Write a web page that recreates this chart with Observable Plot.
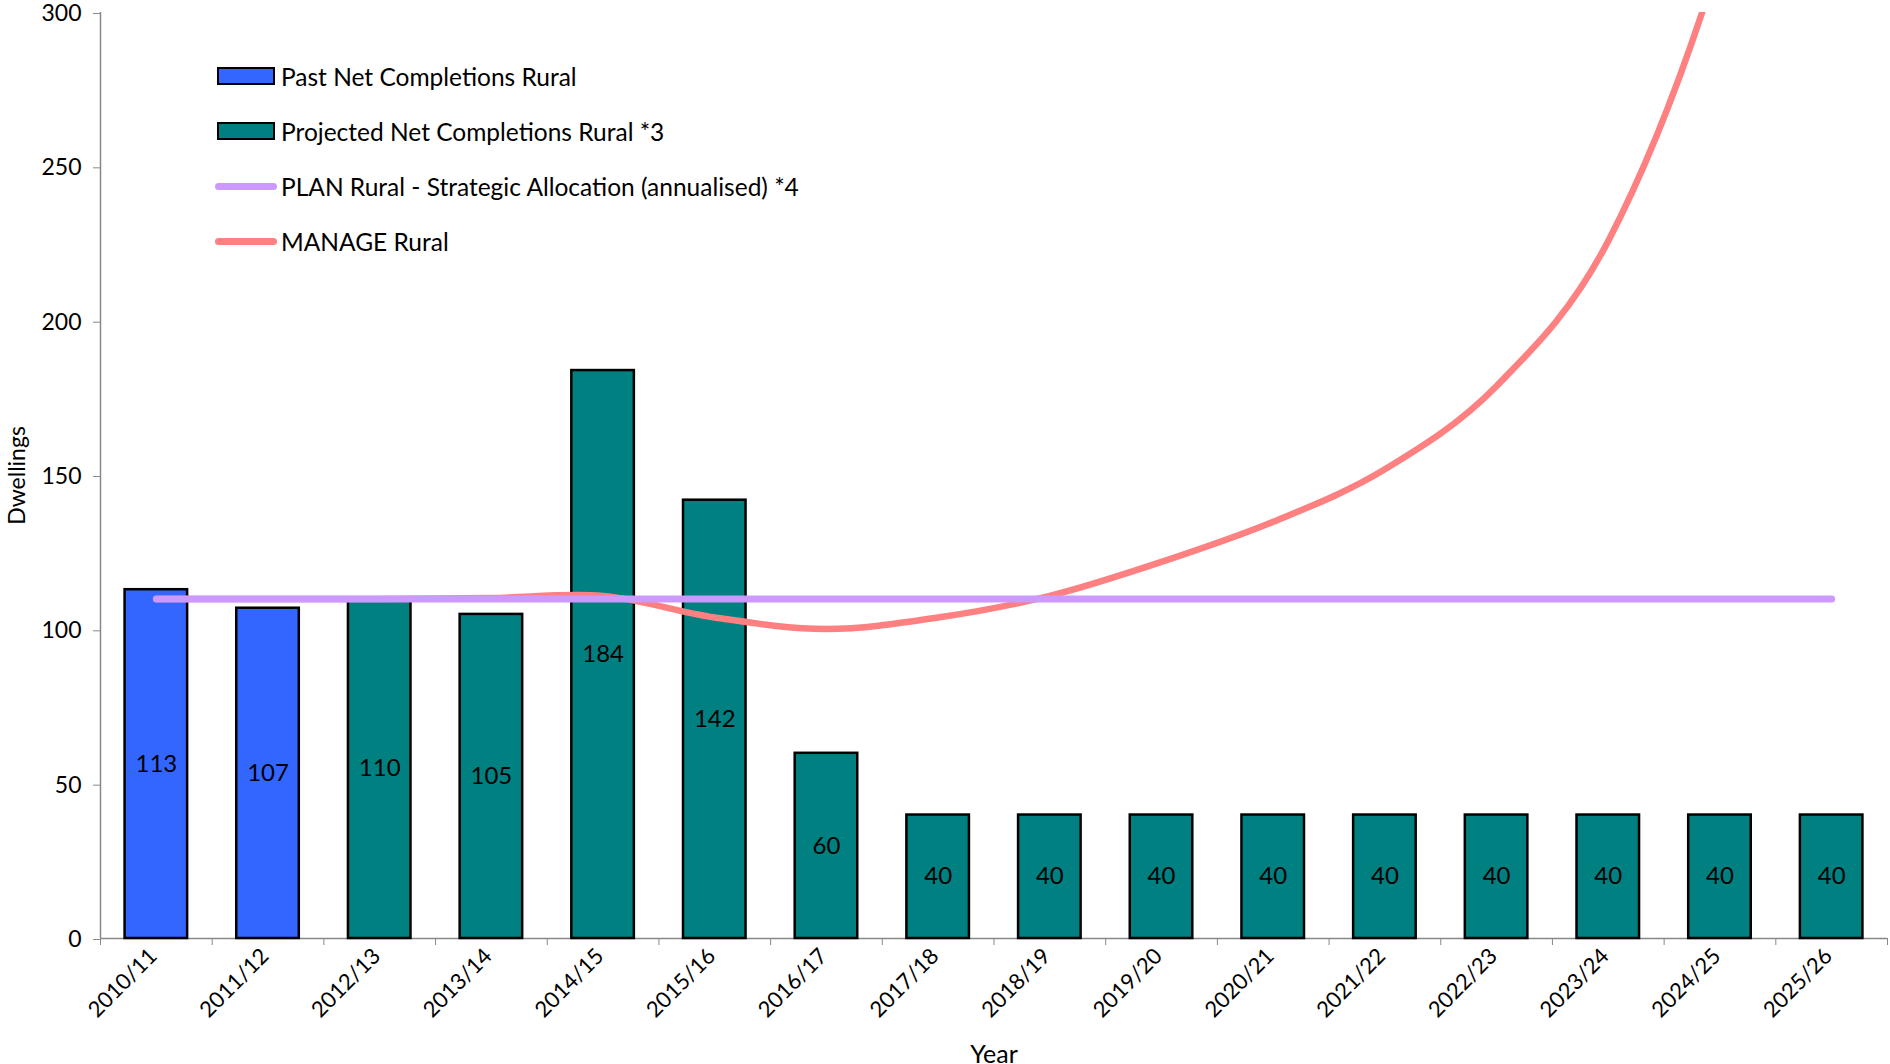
<!DOCTYPE html>
<html>
<head>
<meta charset="utf-8">
<script src="https://cdn.jsdelivr.net/npm/d3@7"></script>
<script src="https://cdn.jsdelivr.net/npm/@observablehq/plot@0.6"></script>
<style>
  body { margin: 0; background: #fff; font-family: Lato, "Noto Sans", sans-serif; }
  #wrap { position: relative; width: 1890px; height: 1064px; }
  .row { position: absolute; left: 215px; height: 30px; display: flex; align-items: center; font-size: 24.5px; color: #000; white-space: nowrap; }
  .box { width: 58px; height: 18px; box-sizing: border-box; border: 2.5px solid #000; margin-left: 2px; margin-right: 6px; }
  .ln { width: 62px; height: 7px; border-radius: 4px; margin-right: 4px; }
</style>
</head>
<body>
<div id="wrap">
  <div id="chart"></div>
  <div id="legend"></div>
</div>
<script>
const years = ["2010/11","2011/12","2012/13","2013/14","2014/15","2015/16","2016/17","2017/18",
               "2018/19","2019/20","2020/21","2021/22","2022/23","2023/24","2024/25","2025/26"];
const completions = [113, 107, 110, 105, 184, 142, 60, 40, 40, 40, 40, 40, 40, 40, 40, 40];
const completionType = ["Past","Past","Projected","Projected","Projected","Projected","Projected","Projected",
                        "Projected","Projected","Projected","Projected","Projected","Projected","Projected","Projected"];
const planRural = [110,110,110,110,110,110,110,110,110,110,110,110,110,110,110,110];
const manageRural = [110, 110, 110, 110.3, 111, 104, 100.3, 104, 111, 122, 135, 152, 179, 226, 318, 460];
const yTicks = [0, 50, 100, 150, 200, 250, 300];

const seriesNames = ["Past Net Completions Rural", "Projected Net Completions Rural *3",
                     "PLAN Rural - Strategic Allocation (annualised) *4", "MANAGE Rural"];
const colors = { past: "#3366FF", projected: "#008080", plan: "#CC99FF", manage: "#FF8080" };

const bars = years.map((year, i) => ({ year, value: completions[i], type: completionType[i] }));
const lines = years.map((year, i) => ({ year, plan: planRural[i], manage: manageRural[i] }));

const W = 1890, H = 1064, mL = 100, mR = 3, mT = 12, mB = 126;
const step = (W - mL - mR) / years.length;
const axisGrey = "#888888";

const chart = Plot.plot({
  width: W, height: H,
  marginLeft: mL, marginRight: mR, marginTop: mT, marginBottom: mB,
  style: { fontFamily: "Lato, 'Noto Sans', sans-serif", fontSize: "23px", color: "#000", background: "#fff", overflow: "visible" },
  x: { type: "band", domain: years, paddingInner: 0.44, paddingOuter: 0.22, round: false },
  y: { domain: [0, 300] },
  color: { domain: ["Past", "Projected"], range: [colors.past, colors.projected] },
  marks: [
    Plot.ruleY([0], { stroke: axisGrey, strokeWidth: 1.5 }),
    Plot.ruleX([years[0]], { dx: -step / 2, y1: 0, y2: 300, stroke: axisGrey, strokeWidth: 1.5 }),
    Plot.axisY({ ticks: yTicks, tickSize: 7, tickPadding: 12, stroke: axisGrey, fontSize: 23, dy: 1,
                 label: "Dwellings", labelAnchor: "center", labelArrow: "none", labelOffset: 92 }),
    Plot.axisX({ tickSize: 0, tickRotate: -45, tickPadding: 14, fontSize: 22, dx: -3, label: null }),
    Plot.axisX({ ticks: [], fontSize: 25, label: "Year", labelAnchor: "center", labelArrow: "none", labelOffset: 124 }),
    Plot.axisX({ ticks: years, tickSize: 7, dx: -step / 2, stroke: axisGrey, tickFormat: () => "", label: null }),
    Plot.axisX({ ticks: [years[years.length - 1]], tickSize: 7, dx: step / 2, stroke: axisGrey, tickFormat: () => "", label: null }),
    Plot.barY(bars, { x: "year", y: "value", fill: "type", stroke: "#000", strokeWidth: 2.5 }),
    Plot.text(bars, { x: "year", y: d => d.value / 2, text: d => String(d.value), fontSize: 24, fill: "#000" }),
    Plot.line(lines, { x: "year", y: "manage", stroke: colors.manage, strokeWidth: 6.5, curve: "cardinal", clip: true }),
    Plot.line(lines, { x: "year", y: "plan", stroke: colors.plan, strokeWidth: 7, strokeLinecap: "round" })
  ]
});
document.getElementById("chart").appendChild(chart);

const legend = document.getElementById("legend");
const legendItems = [
  { name: seriesNames[0], kind: "box", color: colors.past },
  { name: seriesNames[1], kind: "box", color: colors.projected },
  { name: seriesNames[2], kind: "line", color: colors.plan },
  { name: seriesNames[3], kind: "line", color: colors.manage }
];
const rowCenters = [76, 131, 186, 241];
legendItems.forEach((item, i) => {
  const row = document.createElement("div");
  row.className = "row";
  row.style.top = (rowCenters[i] - 15) + "px";
  const sw = document.createElement("div");
  sw.className = item.kind === "box" ? "box" : "ln";
  sw.style.background = item.color;
  const label = document.createElement("span");
  label.textContent = item.name;
  row.appendChild(sw);
  row.appendChild(label);
  legend.appendChild(row);
});
</script>
</body>
</html>
